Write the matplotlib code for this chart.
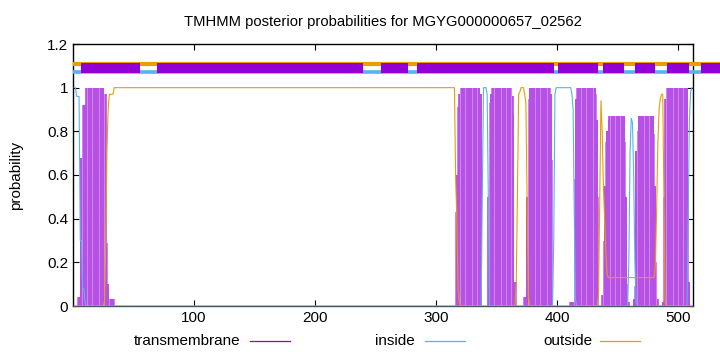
import numpy as np
import matplotlib
matplotlib.use("Agg")
import matplotlib.pyplot as plt
from matplotlib.lines import Line2D

plt.rcParams['font.family'] = ['Liberation Sans', 'DejaVu Sans']

# --- DATA ---
SEQ_LEN = 512
TITLE = "TMHMM posterior probabilities for MGYG000000657_02562"

# runs of residues with the same posterior: (first, last, value); anything not listed is 0
tm_runs = [
    (4, 5, 0.04), (6, 7, 0.68), (8, 10, 0.92), (11, 25, 1.0), (26, 27, 0.97),
    (28, 28, 0.29), (29, 29, 0.1), (30, 34, 0.03),
    (316, 316, 0.43), (317, 317, 0.6), (318, 318, 0.91), (319, 319, 0.97),
    (320, 336, 1.0), (337, 337, 0.97),
    (343, 343, 0.5), (344, 344, 0.93), (345, 345, 0.97), (346, 362, 1.0),
    (363, 363, 0.96), (364, 364, 0.88), (365, 366, 0.11),
    (372, 374, 0.04), (375, 375, 0.5), (376, 376, 0.95), (377, 394, 1.0),
    (395, 395, 0.97), (396, 396, 0.67),
    (410, 413, 0.02), (414, 414, 0.58), (415, 415, 0.95), (416, 431, 1.0),
    (432, 432, 0.97), (433, 433, 0.85), (434, 434, 0.5),
    (437, 437, 0.05), (438, 438, 0.3), (439, 439, 0.55), (440, 440, 0.75),
    (441, 441, 0.8), (442, 442, 0.85), (443, 455, 0.87), (456, 456, 0.75),
    (457, 457, 0.5), (458, 458, 0.1), (459, 459, 0.02),
    (463, 463, 0.03), (464, 464, 0.09), (465, 465, 0.71), (466, 466, 0.8),
    (467, 479, 0.87), (480, 480, 0.79), (481, 481, 0.55), (482, 482, 0.2),
    (483, 483, 0.03),
    (487, 487, 0.02), (488, 488, 0.5), (489, 489, 0.95), (490, 507, 1.0),
    (508, 508, 0.56), (509, 509, 0.11),
]

inside_runs = [
    (1, 2, 1.0), (3, 5, 0.96), (6, 7, 0.3), (8, 9, 0.08), (10, 10, 0.02),
    (338, 338, 0.5), (339, 341, 1.0), (342, 342, 0.97), (343, 343, 0.5),
    (397, 397, 0.3), (398, 398, 0.97), (399, 411, 1.0), (412, 412, 0.97),
    (413, 413, 0.9), (414, 414, 0.4), (415, 415, 0.03),
    (459, 459, 0.2), (460, 460, 0.7), (461, 461, 0.86), (462, 462, 0.84),
    (463, 463, 0.6), (464, 464, 0.2), (465, 465, 0.02),
    (508, 508, 0.4), (509, 509, 0.85), (510, 510, 0.98), (511, 512, 1.0),
]

outside_runs = [
    (26, 26, 0.02), (27, 27, 0.29), (28, 28, 0.7), (29, 29, 0.9), (30, 33, 0.97),
    (34, 315, 1.0), (316, 316, 0.58), (317, 317, 0.4), (318, 318, 0.08),
    (319, 319, 0.02),
    (366, 366, 0.1), (367, 367, 0.5), (368, 368, 0.97), (369, 369, 0.98),
    (370, 372, 1.0), (373, 373, 0.97), (374, 374, 0.93), (375, 375, 0.5),
    (376, 376, 0.05),
    (434, 434, 0.05), (435, 435, 0.5), (436, 436, 0.94), (437, 437, 0.8),
    (438, 438, 0.55), (439, 439, 0.4), (440, 440, 0.25), (441, 441, 0.15),
    (442, 480, 0.13), (481, 481, 0.2), (482, 482, 0.45), (483, 483, 0.75),
    (484, 484, 0.9), (485, 485, 0.95), (486, 487, 0.97), (488, 488, 0.5),
    (489, 489, 0.02),
]

# topology band drawn above the curves (residue ranges)
band_tm = [(6.6, 55.4), (69.4, 239.7), (254.5, 276.9), (284.3, 397.5),
           (400.8, 433.9), (438.0, 455.4), (464.5, 481.0), (490.9, 508.3),
           (518.2, 535.0)]
band_end = 535.0

C_TM = '#9400d3'
C_IN = '#56b4e9'
C_OUT = '#e69f00'


def expand(runs):
    vals = np.zeros(SEQ_LEN)
    for a, b, v in runs:
        vals[a - 1:b] = v
    return vals


res = np.arange(1, SEQ_LEN + 1)
tm = expand(tm_runs)
inside = expand(inside_runs)
outside = expand(outside_runs)

fig = plt.figure(figsize=(7.2, 3.52), dpi=100)
ax = fig.add_axes([73 / 720, 46 / 352, 620 / 720, 262 / 352])

# transmembrane as impulses: light fill + darker stripes
ax.bar(res, tm, width=1.0, color='#cf86f2', linewidth=0, zorder=2)
ax.vlines(res[::2], 0, tm[::2], color='#b040e0', linewidth=1.1, zorder=3)

ax.plot(res, inside, color=C_IN, linewidth=0.8, zorder=4)
ax.plot(res, outside, color=C_OUT, linewidth=0.8, zorder=4)

# topology band at the top (runs past the right border like the original)
ax.plot([0, band_end], [1.109, 1.109], color=C_OUT, linewidth=3.0,
        solid_capstyle='butt', clip_on=False, zorder=5)
ax.plot([0, band_end], [1.071, 1.071], color=C_IN, linewidth=2.6,
        solid_capstyle='butt', clip_on=False, zorder=5)
for a, b in band_tm:
    ax.plot([a, b], [1.091, 1.091], color=C_TM, linewidth=7.2,
            solid_capstyle='butt', clip_on=False, zorder=6)

ax.set_xlim(0, SEQ_LEN)
ax.set_ylim(0, 1.2)
ax.set_xticks([100, 200, 300, 400, 500])
ax.set_yticks([0, 0.2, 0.4, 0.6, 0.8, 1.0, 1.2])
ax.set_yticklabels(['0', '0.2', '0.4', '0.6', '0.8', '1', '1.2'])
ax.tick_params(direction='in', top=True, right=True, length=4, width=0.8,
               labelsize=11, colors='black')
for s in ax.spines.values():
    s.set_linewidth(1.0)
ax.spines['bottom'].set_color('#4a5560')
ax.set_ylabel('probability', fontsize=11, labelpad=17)
ax.set_title(TITLE, fontsize=10.6, pad=13)

# gnuplot-style key below the plot: text then line sample
legend_items = [('transmembrane', C_TM, 240, 250), ('inside', C_IN, 415, 425),
                ('outside', C_OUT, 592, 600)]
for label, col, tx, lx in legend_items:
    fig.text(tx / 720, 1 - 341 / 352, label, ha='right', va='center', fontsize=11)
    fig.add_artist(Line2D([lx / 720, (lx + 40) / 720], [1 - 341 / 352] * 2,
                          color=col, linewidth=0.9, transform=fig.transFigure))

fig.savefig('out.png', dpi=100)
